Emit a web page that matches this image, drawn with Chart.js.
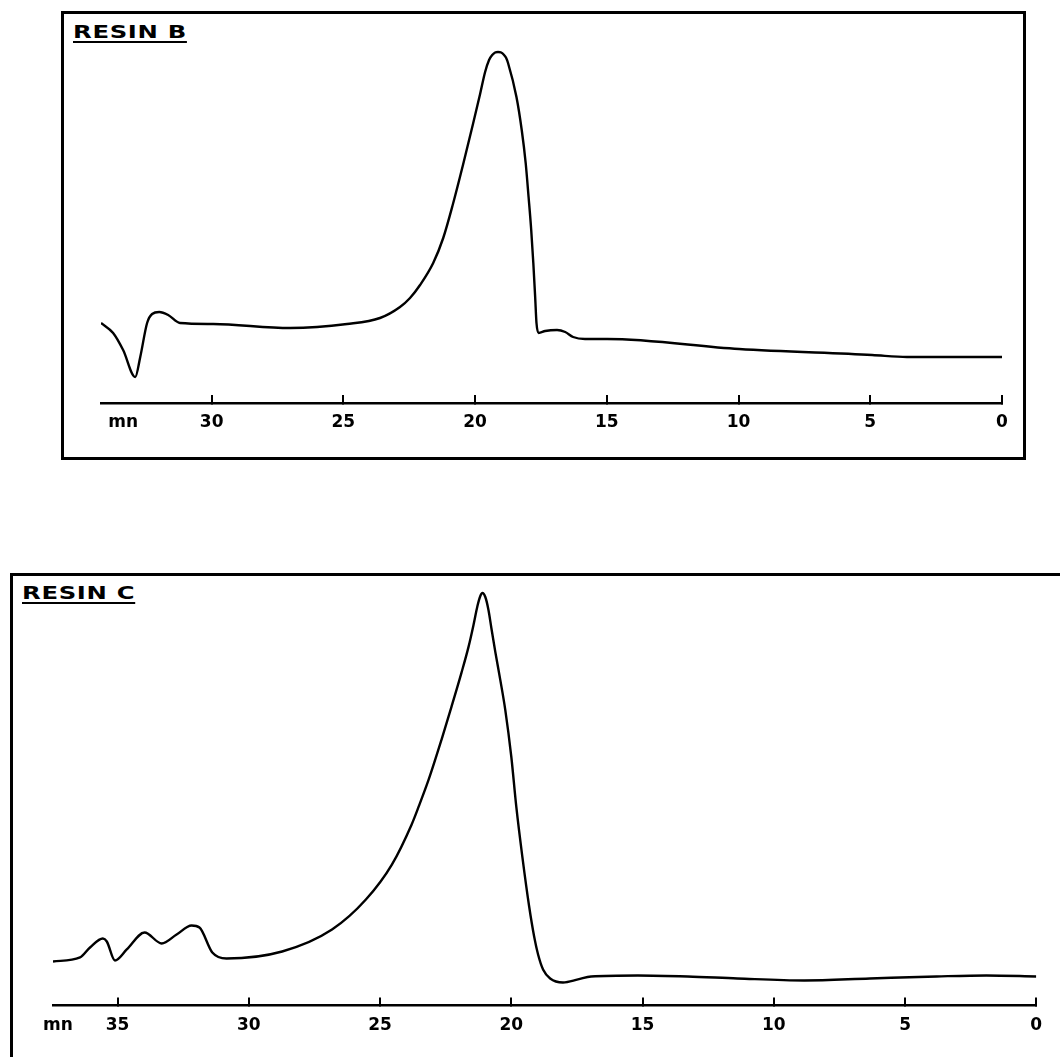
<!DOCTYPE html>
<html>
<head>
<meta charset="utf-8">
<script src="https://cdn.jsdelivr.net/npm/chart.js@4/dist/chart.umd.min.js"></script>
<style>
  html, body { margin: 0; padding: 0; background: #fff; width: 1060px; height: 1057px; overflow: hidden; position: relative; }
  .box { position: absolute; box-sizing: border-box; }
  #boxB { left: 61px; top: 11px; width: 965px; height: 449px; border: 3px solid #000; }
  #boxC { left: 10px; top: 573px; width: 1060px; height: 500px; border-left: 3px solid #000; border-top: 3px solid #000; }
  .title { position: absolute; font-family: "DejaVu Sans", sans-serif; font-weight: bold; font-size: 18px; line-height: 18px;
           letter-spacing: 0.5px; transform: scaleX(1.35); transform-origin: 0 0; color: #000;
           text-decoration: underline; text-decoration-thickness: 2px; text-underline-offset: 3px; white-space: nowrap; }
  #titleB { left: 73px; top: 23px; }
  #titleC { left: 22px; top: 584px; }
  canvas { position: absolute; }
  #chartB { left: 0; top: 0; }
  #chartC { left: 0; top: 560px; }
</style>
</head>
<body>
<div class="box" id="boxB"></div>
<div class="box" id="boxC"></div>
<div class="title" id="titleB">RESIN B</div>
<div class="title" id="titleC">RESIN C</div>
<canvas id="chartB" width="1060" height="500"></canvas>
<canvas id="chartC" width="1060" height="497"></canvas>
<script>
// ---- Data (elution time in minutes, detector response in arbitrary units) ----
const resinB_time = [34.2, 33.74, 33.36, 32.9, 32.71, 32.45, 32.26, 31.99, 31.65, 31.2, 29.94, 27.02, 24.86, 23.61, 22.85, 22.47, 22.09, 21.59, 21.21, 20.84, 20.46, 20.08, 19.81, 19.62, 19.47, 19.35, 19.24, 19.13, 19.01, 18.9, 18.82, 18.75, 18.43, 18.23, 18.08, 17.97, 17.87, 17.79, 17.72, 17.67, 17.59, 17.34, 16.89, 16.58, 16.28, 15.83, 14.99, 9.98, 4.93, 3.61, 0];
const resinB_signal = [80, 70, 53, 26, 46, 80, 89, 91, 88, 80, 79, 75, 79, 85, 96, 105, 118, 140, 165, 199, 238, 279, 309, 331, 343, 348, 350.5, 351, 350.5, 348, 345, 340, 306, 273, 240, 206, 173, 140, 106, 80, 70, 72, 73, 71, 66, 64, 64, 54, 48, 46, 46];

const resinC_time = [37.46, 36.43, 36.05, 35.56, 35.41, 35.1, 34.65, 33.97, 33.32, 32.75, 32.18, 31.88, 31.39, 30.85, 28.73, 26.83, 25.54, 24.55, 23.8, 23.53, 23.15, 22.66, 22.28, 21.9, 21.63, 21.44, 21.29, 21.18, 21.1, 20.99, 20.87, 20.76, 20.61, 20.42, 20.23, 20.0, 19.81, 19.58, 19.32, 19.13, 18.98, 18.79, 18.52, 18.03, 17.46, 16.96, 15.18, 13.28, 11.39, 8.84, 6.34, 3.8, 1.9, 0];
const resinC_signal = [44, 48, 58, 67, 64, 45, 56, 73, 62, 71, 80, 78, 53, 47, 54, 76, 106, 141, 181, 199, 226, 266, 299, 333, 359, 381, 400, 410, 413, 409, 396, 378, 354, 326, 296, 249, 199, 149, 99, 69, 51, 36, 27, 23, 26, 29, 30, 29, 27, 25, 27, 29, 30, 29];

const tickValsB = [33.36, 30, 25, 20, 15, 10, 5, 0];
const tickLabelsB = ['mn', '30', '25', '20', '15', '10', '5', '0'];
const tickValsC = [37.27, 35, 30, 25, 20, 15, 10, 5, 0];
const tickLabelsC = ['mn', '35', '30', '25', '20', '15', '10', '5', '0'];

function makeChart(id, times, signal, tickVals, tickLabels, xMax, yMax, padding) {
  const pts = times.map((t, i) => ({ x: t, y: signal[i] }));
  return new Chart(document.getElementById(id), {
    type: 'line',
    data: { datasets: [{ data: pts, borderColor: '#000', borderWidth: 2.4, pointRadius: 0, fill: false,
                         cubicInterpolationMode: 'monotone' }] },
    options: {
      responsive: false, animation: false, devicePixelRatio: 1,
      layout: { padding: padding },
      plugins: { legend: { display: false }, tooltip: { enabled: false }, title: { display: false } },
      scales: {
        x: {
          type: 'linear', reverse: true, min: 0, max: xMax,
          afterBuildTicks: (scale) => { scale.ticks = tickVals.map(v => ({ value: v })); },
          border: { display: true, color: '#000', width: 2.5 },
          grid: { drawOnChartArea: false, drawTicks: true, tickLength: -8, lineWidth: 2,
                  color: (ctx) => (ctx.tick && ctx.index === 0) ? 'rgba(0,0,0,0)' : '#000' },
          ticks: {
            autoSkip: false, maxRotation: 0, minRotation: 0, padding: 17.8, color: '#000',
            font: { family: '"DejaVu Sans", sans-serif', weight: 'bold', size: 17 },
            callback: (v, i) => tickLabels[i]
          }
        },
        y: { display: false, min: 0, max: yMax }
      }
    }
  });
}

makeChart('chartB', resinB_time, resinB_signal, tickValsB, tickLabelsB, 34.2, 360,
          { left: 101, right: 58, top: 43, bottom: 49 });
makeChart('chartC', resinC_time, resinC_signal, tickValsC, tickLabelsC, 37.46, 420,
          { left: 53, right: 20, top: 26, bottom: 3.6 });
</script>
</body>
</html>
